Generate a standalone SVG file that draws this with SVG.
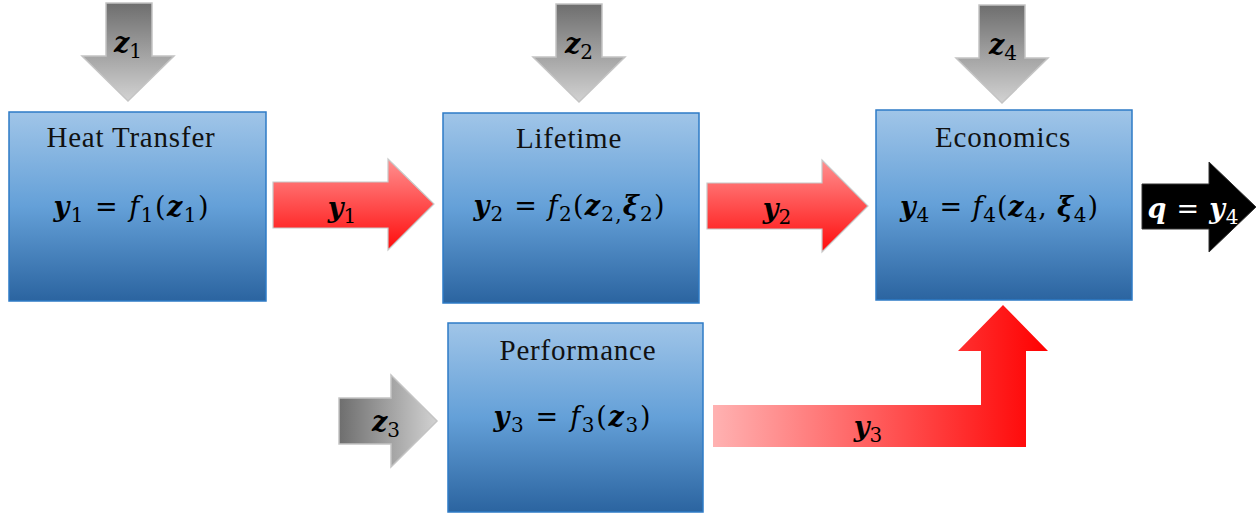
<svg xmlns="http://www.w3.org/2000/svg" width="1260" height="514" viewBox="0 0 1260 514">
<defs>
<linearGradient id="gBox" x1="0" y1="0" x2="0" y2="1">
<stop offset="0" stop-color="#a0c5e8"/>
<stop offset="0.5" stop-color="#64a0d8"/>
<stop offset="1" stop-color="#2b64a0"/>
</linearGradient>
<linearGradient id="gGrayV" x1="0" y1="0" x2="0" y2="1">
<stop offset="0" stop-color="#6e6e6e"/>
<stop offset="1" stop-color="#d2d2d2"/>
</linearGradient>
<linearGradient id="gGrayH" x1="0" y1="0" x2="1" y2="0">
<stop offset="0" stop-color="#6e6e6e"/>
<stop offset="1" stop-color="#d2d2d2"/>
</linearGradient>
<linearGradient id="gRedV" x1="0" y1="0" x2="0" y2="1">
<stop offset="0" stop-color="#ff9090"/>
<stop offset="1" stop-color="#ff0c0c"/>
</linearGradient>
<linearGradient id="gRedH" x1="0" y1="0" x2="1" y2="0">
<stop offset="0" stop-color="#ffb2b2"/>
<stop offset="1" stop-color="#ff0000"/>
</linearGradient>
</defs>
<style>
.box{fill:url(#gBox);stroke:#2e7bc6;stroke-width:1.5}
.ttl{font-family:"Liberation Serif",serif;font-size:29px;fill:#111;text-anchor:middle;letter-spacing:0.8px}
.m{font-family:"DejaVu Serif","Liberation Serif",serif;font-size:27px;fill:#000;text-anchor:middle}
.bi{font-weight:bold;font-style:italic}
.i{font-style:italic}
.s{font-size:20px}
.arrG{stroke:#c4c4c4;stroke-width:1.5}
.arrR{stroke:#c8c8c8;stroke-width:1.2}
.w{fill:#fff}
</style>
<g id="connectors">
<polygon class="arrG" fill="url(#gGrayV)" points="106,3 152,3 152,56 174,56 128,101 82,56 106,56"/>
<text class="m" x="128" y="52"><tspan class="bi">z</tspan><tspan class="s" dy="6">1</tspan></text>
<polygon class="arrG" fill="url(#gGrayV)" points="556,4 602,4 602,57 625,57 579,102 533,57 556,57"/>
<text class="m" x="579" y="53"><tspan class="bi">z</tspan><tspan class="s" dy="6">2</tspan></text>
<polygon class="arrG" fill="url(#gGrayV)" points="979,5 1025,5 1025,58 1048,58 1002,103 956,58 979,58"/>
<text class="m" x="1003" y="54"><tspan class="bi">z</tspan><tspan class="s" dy="6">4</tspan></text>
<polygon class="arrG" fill="url(#gGrayH)" points="339,398 391,398 391,375 437,421 391,467 391,444 339,444"/>
<text class="m" x="386" y="431"><tspan class="bi">z</tspan><tspan class="s" dy="6">3</tspan></text>
<polygon class="arrR" fill="url(#gRedV)" points="273,182 388,182 388,159 434,204 388,250 388,228 273,228"/>
<text class="m" x="342" y="217"><tspan class="bi">y</tspan><tspan class="s" dy="6">1</tspan></text>
<polygon class="arrR" fill="url(#gRedV)" points="707,183 822,183 822,160 868,206 822,252 822,229 707,229"/>
<text class="m" x="777" y="218"><tspan class="bi">y</tspan><tspan class="s" dy="6">2</tspan></text>
<polygon fill="#000" stroke="#333" stroke-width="1" points="1142,184 1209,184 1209,162 1256,207 1209,252 1209,229 1142,229"/>
<text class="m w" x="1193" y="218" textLength="91"><tspan class="bi">q</tspan> = <tspan class="bi">y</tspan><tspan class="s" dy="6">4</tspan></text>
<polygon fill="url(#gRedH)" points="713,405 981,405 981,351 958,351 1003,305 1048,351 1026,351 1026,447 713,447"/>
<text class="m" x="868" y="436"><tspan class="bi">y</tspan><tspan class="s" dy="6">3</tspan></text>
</g>
<g id="heat-transfer">
<rect class="box" x="9" y="112" width="257" height="189"/>
<text class="ttl" x="131" y="147">Heat Transfer</text>
<text class="m" x="131" y="216" textLength="155"><tspan class="bi">y</tspan><tspan class="s" dy="6">1</tspan><tspan dy="-6"> = </tspan><tspan class="i">f</tspan><tspan class="s" dy="6">1</tspan><tspan dy="-6">(</tspan><tspan class="bi">z</tspan><tspan class="s" dy="6">1</tspan><tspan dy="-6">)</tspan></text>
</g>
<g id="lifetime">
<rect class="box" x="443" y="113" width="256" height="190"/>
<text class="ttl" x="569" y="148">Lifetime</text>
<text class="m" x="569" y="215" textLength="191"><tspan class="bi">y</tspan><tspan class="s" dy="6">2</tspan><tspan dy="-6"> = </tspan><tspan class="i">f</tspan><tspan class="s" dy="6">2</tspan><tspan dy="-6">(</tspan><tspan class="bi">z</tspan><tspan class="s" dy="6">2,</tspan><tspan class="bi" dy="-6">ξ</tspan><tspan class="s" dy="6">2</tspan><tspan dy="-6">)</tspan></text>
</g>
<g id="economics">
<rect class="box" x="876" y="110" width="256" height="190"/>
<text class="ttl" x="1003" y="147">Economics</text>
<text class="m" x="999" y="216" textLength="198"><tspan class="bi">y</tspan><tspan class="s" dy="6">4</tspan><tspan dy="-6"> = </tspan><tspan class="i">f</tspan><tspan class="s" dy="6">4</tspan><tspan dy="-6">(</tspan><tspan class="bi">z</tspan><tspan class="s" dy="6">4</tspan><tspan dy="-6">, </tspan><tspan class="bi">ξ</tspan><tspan class="s" dy="6">4</tspan><tspan dy="-6">)</tspan></text>
</g>
<g id="performance">
<rect class="box" x="448" y="323" width="255" height="189"/>
<text class="ttl" x="578" y="360">Performance</text>
<text class="m" x="572" y="426" textLength="157"><tspan class="bi">y</tspan><tspan class="s" dy="6">3</tspan><tspan dy="-6"> = </tspan><tspan class="i">f</tspan><tspan class="s" dy="6">3</tspan><tspan dy="-6">(</tspan><tspan class="bi">z</tspan><tspan class="s" dy="6">3</tspan><tspan dy="-6">)</tspan></text>
</g>
</svg>
